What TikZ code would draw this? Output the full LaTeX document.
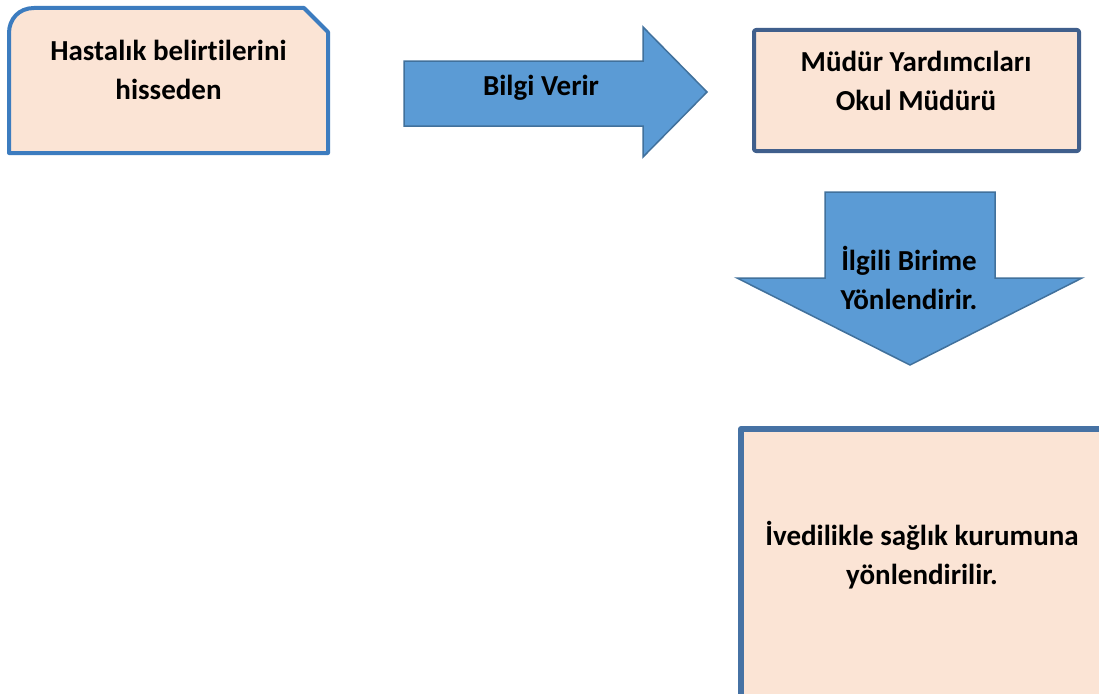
\documentclass[tikz,border=0pt]{standalone}
\usepackage{fontspec}
\setmainfont{Carlito}[Ligatures=NoCommon]
\definecolor{peach}{HTML}{FBE4D5}
\definecolor{lineone}{HTML}{3C7CBF}
\definecolor{linetwo}{HTML}{405F8C}
\definecolor{linethree}{HTML}{4672A4}
\definecolor{arrowfill}{HTML}{5B9BD5}
\definecolor{arrowline}{HTML}{41719C}
\begin{document}
\begin{tikzpicture}[x=1pt,y=-1pt,
  txt/.style={black,align=center,font=\bfseries\fontsize{29}{39}\selectfont},
  box/.style={fill=peach,line join=round},
  blockarrow/.style={fill=arrowfill,draw=arrowline,line width=1.5pt,line join=miter}]
\clip (0,0) rectangle (1099,693);
\fill[white] (0,0) rectangle (1099,693);
\coordinate (BL) at (9,153); % box one bottom left
\coordinate (BR) at (328,153); % box one bottom right
% first box, round and snipped corners
\draw[box,draw=lineone,line width=4pt] (BL) -- (9,33) .. controls (9,19) and (19,8) .. (34,8) -- (304,8) -- (328,32) -- (BR) -- cycle;
\node[txt] (hasta) at (168.5,70) {Hastalık belirtilerini\\hisseden};
% right block arrow
\draw[blockarrow] (404,61) -- (643,61) -- (643,27) -- (707,92) -- (643,157) -- (643,126) -- (404,126) -- cycle;
\node[txt,anchor=base] (bilgi) at (541,95) {Bilgi Verir};
% second box
\draw[box,draw=linetwo,line width=4pt,rounded corners=2pt] (754,30) rectangle (1079,151);
\node[txt] (mudur) at (916,81) {Müdür Yardımcıları\\Okul Müdürü};
% down block arrow
\draw[blockarrow] (825,192) -- (995,192) -- (995,278) -- (1082,278) -- (910,365) -- (737,278) -- (825,278) -- cycle;
\node[txt] (birim) at (909,278) {İlgili Birime\\Yönlendirir.};
% third box, runs off the page
\draw[box,draw=linethree,line width=6pt] (741,429) rectangle (1130,730);
\node[txt] (kurum) at (922,555) {İvedilikle sağlık kurumuna\\yönlendirilir.};
\end{tikzpicture}
\end{document}
